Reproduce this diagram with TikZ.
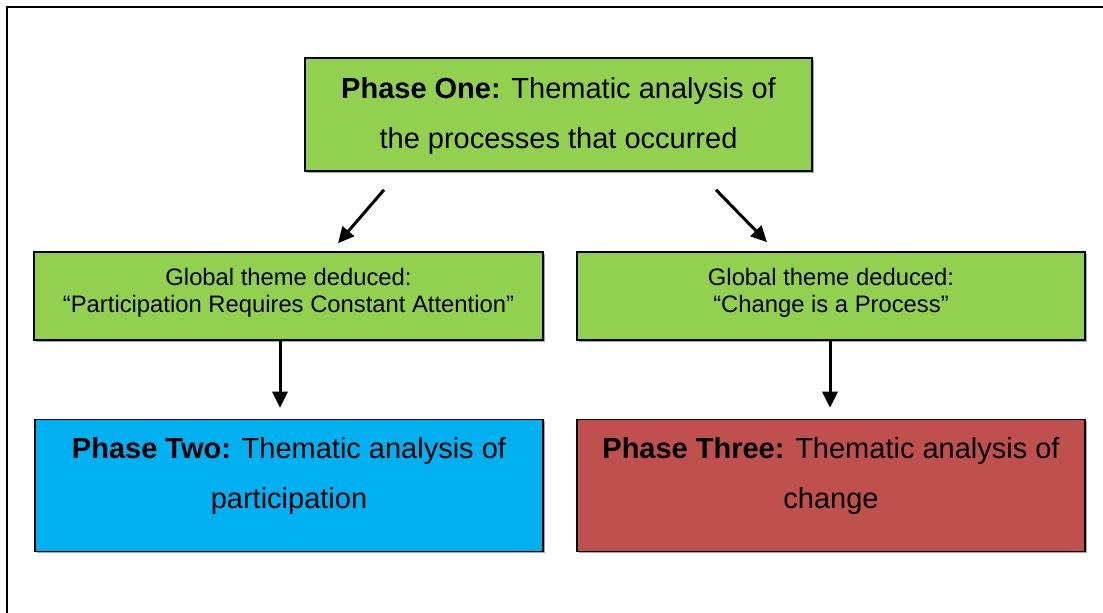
\documentclass[tikz,border=0pt]{standalone}
\usepackage{fontspec}
\setmainfont{Liberation Sans}
\usetikzlibrary{arrows.meta,shadows}

\definecolor{phasegreen}{HTML}{92D050}
\definecolor{phaseblue}{HTML}{00B0F0}
\definecolor{phasered}{HTML}{C0504D}

\begin{document}
\begin{tikzpicture}[x=1pt,y=-1pt,
  box/.style={draw=black, line width=1.6pt, rectangle, inner sep=0pt,
    drop shadow={shadow xshift=1.5pt, shadow yshift=-1.5pt, fill=black!35, opacity=1}},
  bigtext/.style={align=center, inner sep=0pt, font=\fontsize{29}{50.5}\selectfont},
  smalltext/.style={align=center, inner sep=0pt, font=\fontsize{23.8}{26.5}\selectfont},
  link/.style={line width=3pt, -{Triangle[length=16pt,width=15pt]}}
]
\useasboundingbox (0,0) rectangle (1103,613);

% open frame along the left and top edges
\draw[line width=2.5pt] (7,613) -- (7,7) -- (1103,7);

% boxes
\node[box, fill=phasegreen, minimum width=507pt, minimum height=113pt] (p1) at (558.5,114.5) {};
\node[box, fill=phasegreen, minimum width=509pt, minimum height=88pt] (g1) at (288.5,296) {};
\node[box, fill=phasegreen, minimum width=508pt, minimum height=88pt] (g2) at (831,296) {};
\node[box, fill=phaseblue, minimum width=508pt, minimum height=132pt] (p2) at (289,485.5) {};
\node[box, fill=phasered, minimum width=508pt, minimum height=132pt] (p3) at (831,485.5) {};

% texts
\node[bigtext] (t1) at ([yshift=-1.5pt]p1.center)
  {\textbf{Phase One:} Thematic analysis of\\the processes that occurred};
\node[smalltext] (tg1) at ([yshift=3pt]g1.center)
  {Global theme deduced:\\“Participation Requires Constant Attention”};
\node[smalltext] (tg2) at ([yshift=3pt]g2.center)
  {Global theme deduced:\\“Change is a Process”};
\node[bigtext] (t2) at ([yshift=9.5pt]p2.center)
  {\textbf{Phase Two:} Thematic analysis of\\participation};
\node[bigtext] (t3) at ([yshift=9.5pt]p3.center)
  {\textbf{Phase Three:} Thematic analysis of\\change};

% connectors
\draw[link] ([xshift=-174.5pt,yshift=-18pt]p1.south) -- ([xshift=49.5pt,yshift=8pt]g1.north);
\draw[link] ([xshift=157.5pt,yshift=-18pt]p1.south) -- ([xshift=-64pt,yshift=9pt]g2.north);
\draw[link] ([xshift=-8.5pt]g1.south) -- ([xshift=-9pt,yshift=11pt]p2.north);
\draw[link] ([xshift=-1pt]g2.south) -- ([xshift=-1pt,yshift=11pt]p3.north);
\end{tikzpicture}
\end{document}
